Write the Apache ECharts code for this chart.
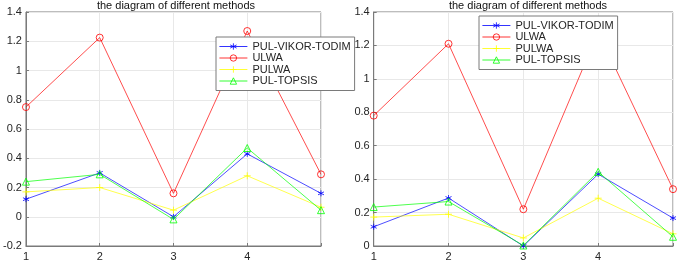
<!DOCTYPE html>
<html><head><meta charset="utf-8">
<script src="https://cdn.jsdelivr.net/npm/echarts@6/dist/echarts.min.js"></script>
<style>html,body{margin:0;padding:0;background:#fff}#c{width:677px;height:262px}</style>
</head><body><div id="c"></div>
<script>
const titleText = "the diagram of different methods";
const xValues = [1, 2, 3, 4, 5];
const seriesNames = ["PUL-VIKOR-TODIM", "ULWA", "PULWA", "PUL-TOPSIS"];
// left panel
const leftVikor  = [0.12, 0.30, 0.00, 0.43, 0.16];
const leftUlwa   = [0.75, 1.225, 0.16, 1.27, 0.29];
const leftPulwa  = [0.17, 0.20, 0.045, 0.28, 0.065];
const leftTopsis = [0.24, 0.29, -0.018, 0.47, 0.045];
// right panel
const rightVikor  = [0.115, 0.287, 0.00, 0.43, 0.167];
const rightUlwa   = [0.78, 1.21, 0.22, 1.28, 0.34];
const rightPulwa  = [0.173, 0.19, 0.048, 0.286, 0.073];
const rightTopsis = [0.233, 0.266, 0.003, 0.444, 0.055];
const leftYTicks = { min: -0.2, max: 1.4, step: 0.2 };
const rightYTicks = { min: 0, max: 1.4, step: 0.2 };
const xTickLabels = ["1", "2", "3", "4", ""];

const colors = ["#0000ff", "#ff0000", "#ffff00", "#00ff00"];
const symbols = [
  'path://M0,-1L0,1M-0.87,-0.5L0.87,0.5M-0.87,0.5L0.87,-0.5',
  'circle',
  'path://M0,-1L0,1M-1,0L1,0',
  'triangle'
];
const symbolSizes = [6, 7, 7, 7];

const chart = echarts.init(document.getElementById('c'), null, {renderer: 'canvas'});
const font = 'Liberation Sans, Arial, sans-serif';
const grids = [
  {left: 20.7, top: 12, width: 300.3, height: 235},
  {left: 373.7, top: 12, width: 299.3, height: 235}
];
function mkX(i) {
  return {
    gridIndex: i, type: 'value', min: 1, max: 5, interval: 1,
    axisLine: {show: true, onZero: false, lineStyle: {color: '#7a7a7a', width: 1}},
    axisTick: {show: true, inside: true, length: 3, lineStyle: {color: '#7a7a7a'}},
    axisLabel: {color: '#262626', fontSize: 11, fontFamily: font, margin: 5,
      formatter: v => xTickLabels[xValues.indexOf(v)] ?? ''},
    splitLine: {show: true, lineStyle: {color: '#e8e8e8', width: 1}}
  };
}
function mkY(i, t) {
  return {
    gridIndex: i, type: 'value', min: t.min, max: t.max, interval: t.step,
    axisLine: {show: true, onZero: false, lineStyle: {color: '#7a7a7a', width: 1}},
    axisTick: {show: true, inside: true, length: 3, lineStyle: {color: '#7a7a7a'}},
    axisLabel: {color: '#262626', fontSize: 11, fontFamily: font, margin: 4,
      formatter: v => String(Math.round(v * 10) / 10)},
    splitLine: {show: true, lineStyle: {color: '#e8e8e8', width: 1}}
  };
}
function mkSeries(data, k, gi) {
  return {
    name: seriesNames[k], type: 'line', xAxisIndex: gi, yAxisIndex: gi,
    data: xValues.map((x, j) => [x, data[j]]),
    symbol: symbols[k], symbolSize: symbolSizes[k], showSymbol: true,
    lineStyle: {color: colors[k], width: 0.7},
    itemStyle: {color: (k === 0) ? colors[k] : 'rgba(255,255,255,0)', borderColor: colors[k], borderWidth: 0.8},
    animation: false, silent: true, z: 2 + (k === 1 ? 0 : k)
  };
}
const legendTextStyle = {fontSize: 11, fontFamily: font, color: '#262626', lineHeight: 11};
const legendBase = {
  orient: 'vertical', itemWidth: 28, itemHeight: 8, itemGap: 0.5,
  padding: [4, 4, 4, 3], borderColor: '#7a7a7a', borderWidth: 1, backgroundColor: '#fff',
  textStyle: legendTextStyle, data: seriesNames, selectedMode: false,
  lineStyle: {width: 0.8}, itemStyle: {borderWidth: 0.8}
};
const option = {
  animation: false,
  title: [
    {text: titleText, left: 171, top: -5, textAlign: 'center',
     textStyle: {fontSize: 11, fontWeight: 'normal', fontFamily: font, color: '#111'}},
    {text: titleText, left: 523, top: -5, textAlign: 'center',
     textStyle: {fontSize: 11, fontWeight: 'normal', fontFamily: font, color: '#111'}}
  ],
  grid: grids.map(g => Object.assign({show: true, borderColor: '#7a7a7a', borderWidth: 1, backgroundColor: '#fff'}, g)),
  xAxis: [mkX(0), mkX(1)],
  yAxis: [mkY(0, leftYTicks), mkY(1, rightYTicks)],
  legend: [
    Object.assign({}, legendBase, {left: 216, top: 37}),
    Object.assign({}, legendBase, {left: 479, top: 16})
  ],
  series: [
    mkSeries(leftVikor, 0, 0), mkSeries(leftUlwa, 1, 0), mkSeries(leftPulwa, 2, 0), mkSeries(leftTopsis, 3, 0),
    mkSeries(rightVikor, 0, 1), mkSeries(rightUlwa, 1, 1), mkSeries(rightPulwa, 2, 1), mkSeries(rightTopsis, 3, 1)
  ]
};
chart.setOption(option);
</script></body></html>
